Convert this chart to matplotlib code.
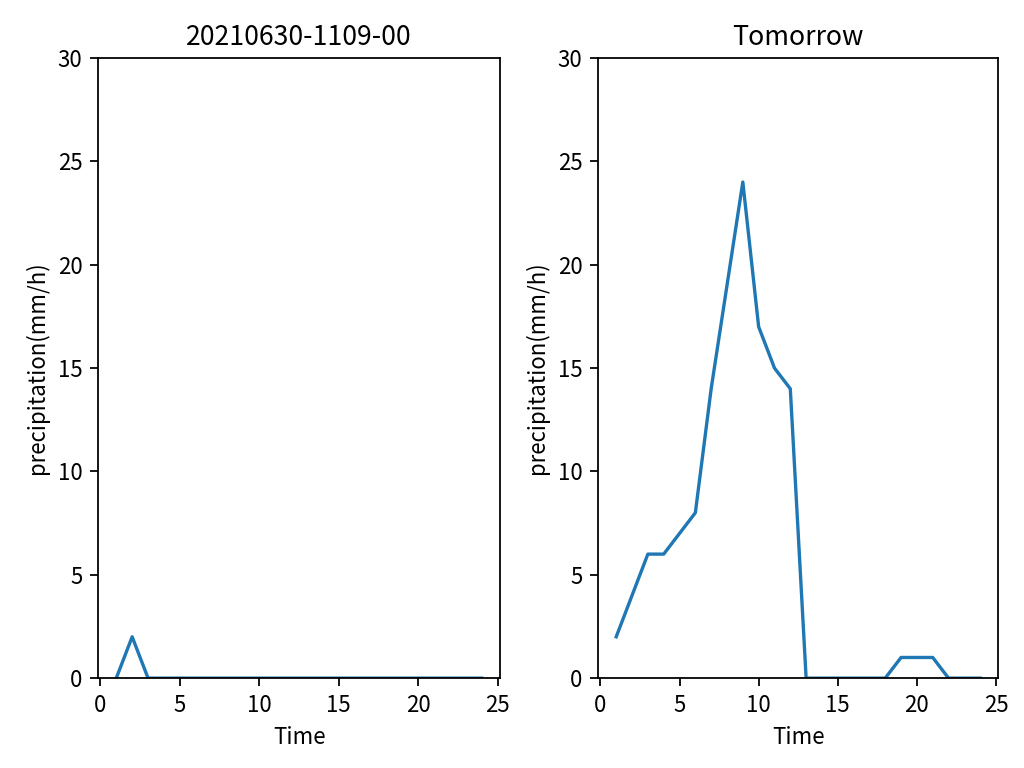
import matplotlib
matplotlib.use("Agg")
import matplotlib.pyplot as plt

plt.rcParams['font.family'] = ['Noto Sans CJK JP', 'DejaVu Sans']

hours = list(range(1, 25))
today_title = "20210630-1109-00"
today_rain = [0, 2, 0, 0, 0, 0, 0, 0, 0, 0, 0, 0,
              0, 0, 0, 0, 0, 0, 0, 0, 0, 0, 0, 0]
tomorrow_title = "Tomorrow"
tomorrow_rain = [2, 4, 6, 6, 7, 8, 14, 19, 24, 17, 15, 14,
                 0, 0, 0, 0, 0, 0, 1, 1, 1, 0, 0, 0]

fig = plt.figure(figsize=(6.4, 4.8), dpi=160)
ax1 = fig.add_axes([0.0957, 0.117, 0.3926, 0.8075])
ax2 = fig.add_axes([0.584, 0.117, 0.391, 0.8075])

for ax, title, rain in [(ax1, today_title, today_rain),
                        (ax2, tomorrow_title, tomorrow_rain)]:
    ax.plot(hours, rain)
    ax.set_ylim(0, 30)
    ax.set_title(title)
    ax.set_xlabel("Time")
    ax.set_ylabel("precipitation(mm/h)")

fig.savefig("out.png", dpi=160)
